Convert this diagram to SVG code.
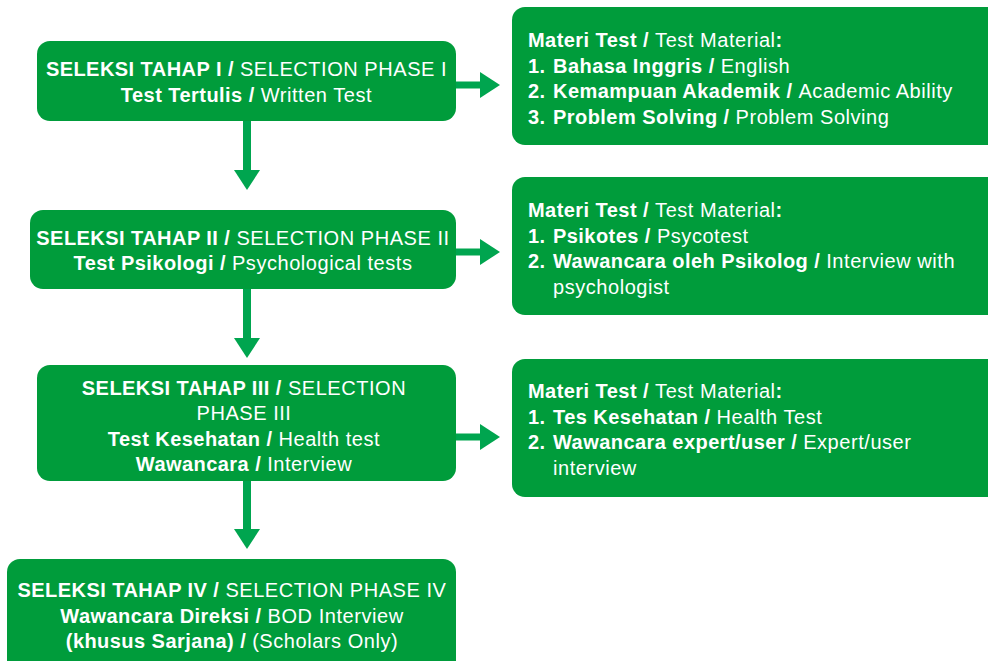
<svg xmlns="http://www.w3.org/2000/svg" width="988" height="661" viewBox="0 0 988 661">
  <style>
    .box { fill: #009c3b; }
    .arrow { fill: #00a54f; }
    text { font-family: "Liberation Sans", Arial, Helvetica, sans-serif; font-size: 20px; fill: #ffffff; letter-spacing: 0.55px; }
    .c { text-anchor: middle; }
    .b { font-weight: bold; letter-spacing: 0.45px; }
  </style>

  <rect width="988" height="661" fill="#ffffff"/>

  <!-- connectors -->
  <g id="connectors">
    <!-- phase to material -->
    <rect class="arrow" x="455" y="81.5" width="26" height="7"/>
    <path class="arrow" d="M480,72 L500,85 L480,98 Z"/>
    <rect class="arrow" x="455" y="248.5" width="26" height="7"/>
    <path class="arrow" d="M480,239 L500,252 L480,265 Z"/>
    <rect class="arrow" x="455" y="433.5" width="26" height="7"/>
    <path class="arrow" d="M480,424 L500,437 L480,450 Z"/>
    <!-- phase to phase -->
    <rect class="arrow" x="243" y="120" width="8" height="51"/>
    <path class="arrow" d="M234,170 L247,190 L260,170 Z"/>
    <rect class="arrow" x="243" y="288" width="8" height="51"/>
    <path class="arrow" d="M234,338 L247,358 L260,338 Z"/>
    <rect class="arrow" x="243" y="480" width="8" height="50"/>
    <path class="arrow" d="M234,529 L247,549 L260,529 Z"/>
  </g>

  <!-- selection phases -->
  <g id="phase1">
    <rect class="box" x="37" y="41" width="419" height="80" rx="13"/>
    <text class="c" x="246.5" y="76"><tspan class="b">SELEKSI TAHAP I / </tspan>SELECTION PHASE I</text>
    <text class="c" x="246.5" y="102"><tspan class="b">Test Tertulis / </tspan>Written Test</text>
  </g>

  <g id="phase2">
    <rect class="box" x="30" y="210" width="426" height="79" rx="13"/>
    <text class="c" x="243" y="245"><tspan class="b">SELEKSI TAHAP II / </tspan>SELECTION PHASE II</text>
    <text class="c" x="243" y="270"><tspan class="b">Test Psikologi / </tspan>Psychological tests</text>
  </g>

  <g id="phase3">
    <rect class="box" x="37" y="365" width="419" height="116" rx="13"/>
    <text class="c" x="244" y="395"><tspan class="b">SELEKSI TAHAP III / </tspan>SELECTION</text>
    <text class="c" x="244" y="420">PHASE III</text>
    <text class="c" x="244" y="446"><tspan class="b">Test Kesehatan / </tspan>Health test</text>
    <text class="c" x="244" y="471"><tspan class="b">Wawancara / </tspan>Interview</text>
  </g>

  <g id="phase4">
    <rect class="box" x="7" y="559" width="449" height="120" rx="13"/>
    <text class="c" x="232" y="597"><tspan class="b">SELEKSI TAHAP IV / </tspan>SELECTION PHASE IV</text>
    <text class="c" x="232" y="623"><tspan class="b">Wawancara Direksi / </tspan>BOD Interview</text>
    <text class="c" x="232" y="648"><tspan class="b">(khusus Sarjana) / </tspan>(Scholars Only)</text>
  </g>

  <!-- test materials -->
  <g id="material1">
    <rect class="box" x="512" y="7" width="496" height="138" rx="13"/>
    <text x="528" y="47"><tspan class="b">Materi Test / </tspan>Test Material<tspan class="b">:</tspan></text>
    <text x="528" y="73"><tspan class="b">1.</tspan><tspan class="b" x="553">Bahasa Inggris / </tspan>English</text>
    <text x="528" y="98"><tspan class="b">2.</tspan><tspan class="b" x="553">Kemampuan Akademik / </tspan>Academic Ability</text>
    <text x="528" y="124"><tspan class="b">3.</tspan><tspan class="b" x="553">Problem Solving / </tspan>Problem Solving</text>
  </g>

  <g id="material2">
    <rect class="box" x="512" y="177" width="496" height="138" rx="13"/>
    <text x="528" y="217"><tspan class="b">Materi Test / </tspan>Test Material<tspan class="b">:</tspan></text>
    <text x="528" y="243"><tspan class="b">1.</tspan><tspan class="b" x="553">Psikotes / </tspan>Psycotest</text>
    <text x="528" y="268"><tspan class="b">2.</tspan><tspan class="b" x="553">Wawancara oleh Psikolog / </tspan>Interview with</text>
    <text x="553" y="294">psychologist</text>
  </g>

  <g id="material3">
    <rect class="box" x="512" y="359" width="496" height="138" rx="13"/>
    <text x="528" y="398"><tspan class="b">Materi Test / </tspan>Test Material<tspan class="b">:</tspan></text>
    <text x="528" y="424"><tspan class="b">1.</tspan><tspan class="b" x="553">Tes Kesehatan / </tspan>Health Test</text>
    <text x="528" y="449"><tspan class="b">2.</tspan><tspan class="b" x="553">Wawancara expert/user / </tspan>Expert/user</text>
    <text x="553" y="475">interview</text>
  </g>
</svg>
